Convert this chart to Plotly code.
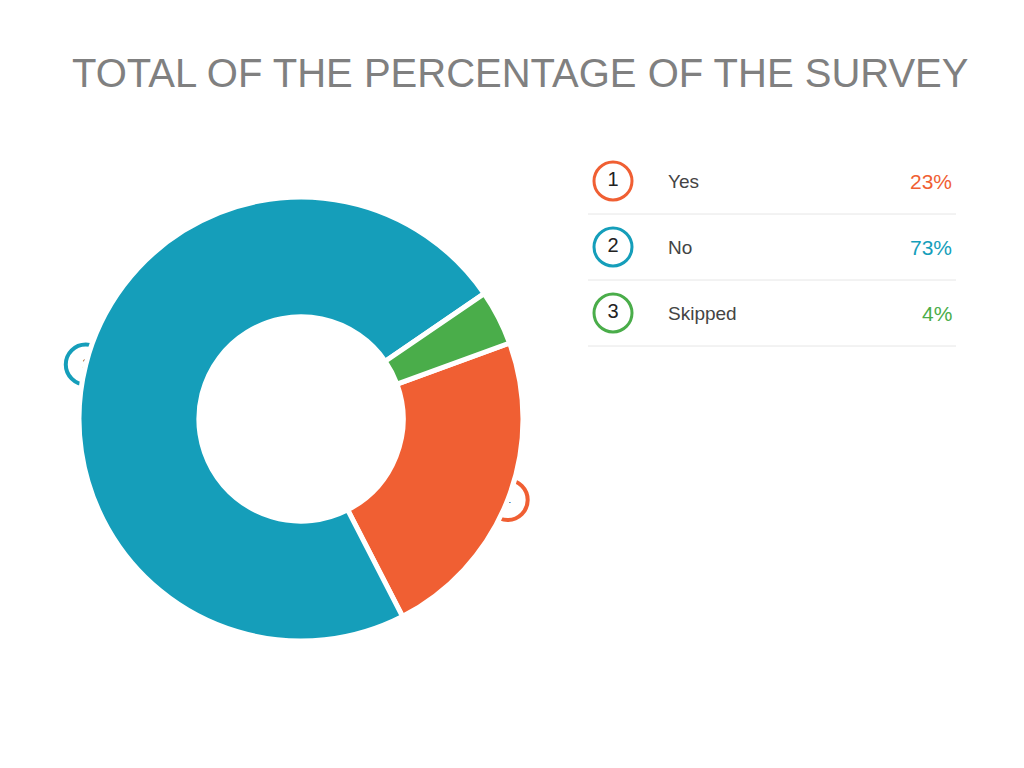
import math
import plotly.graph_objects as go

labels = ["Yes", "No", "Skipped"]
values = [23, 73, 4]
numbers = ["1", "2", "3"]
colors = ["#F05F33", "#159EBA", "#4AAD4A"]

W, H = 1024, 768
cx, cy, R = 293, 411, 222
rotation = 70

fig = go.Figure()
fig.add_trace(go.Pie(
    labels=labels, values=values, hole=0.46, sort=False, direction="clockwise",
    rotation=rotation, marker=dict(colors=colors, line=dict(color="white", width=5)),
    textinfo="none", hoverinfo="label+percent", showlegend=False,
    domain=dict(x=[(cx - R) / W, (cx + R) / W], y=[(H - cy - R) / H, (H - cy + R) / H]),
))

# badges on the ring, placed at each slice's mid angle
total = sum(values)
start = rotation
bx, by, bc, bt = [], [], [], []
for v, c, n in zip(values, colors, numbers):
    mid = start + v / total * 360 / 2
    start += v / total * 360
    if v < 10:
        continue
    a = math.radians(mid)
    bx.append(cx + R * math.sin(a))
    by.append(cy - R * math.cos(a))
    bc.append(c)
    bt.append(n)
fig.add_trace(go.Scatter(
    x=bx, y=by, mode="markers+text", text=bt, textfont=dict(size=12, color="#333"),
    marker=dict(size=40, color="white", line=dict(color=bc, width=4)),
    showlegend=False, hoverinfo="skip",
))

# custom legend
rows_y = [173 + 66 * i for i in range(len(labels))]
fig.add_trace(go.Scatter(
    x=[605] * len(labels), y=rows_y, mode="markers+text", text=numbers,
    textfont=dict(size=20, color="#222"),
    marker=dict(size=38, color="white", line=dict(color=colors, width=3)),
    showlegend=False, hoverinfo="skip",
))
annotations = []
shapes = []
for lab, v, c, y in zip(labels, values, colors, rows_y):
    annotations.append(dict(x=658, y=y, text=lab, showarrow=False, xanchor="left",
                            font=dict(size=19, color="#444")))
    annotations.append(dict(x=946, y=y, text=f"{v}%", showarrow=False, xanchor="right",
                            font=dict(size=21, color=c)))
    shapes.append(dict(type="line", x0=580, x1=948, y0=y + 33, y1=y + 33,
                       line=dict(color="#E6E6E6", width=1), layer="below"))

annotations.append(dict(x=512, y=65, text="TOTAL OF THE PERCENTAGE OF THE SURVEY",
                        showarrow=False, font=dict(size=40, color="#808080")))

fig.update_layout(
    width=W, height=H, margin=dict(l=0, r=0, t=0, b=0),
    paper_bgcolor="white", plot_bgcolor="rgba(0,0,0,0)",
    font=dict(family="Liberation Sans, Arial, sans-serif"),
    xaxis=dict(range=[0, W], visible=False, domain=[0, 1]),
    yaxis=dict(range=[H, 0], visible=False, domain=[0, 1]),
    annotations=annotations, shapes=shapes,
)

fig.write_html("out.html")
